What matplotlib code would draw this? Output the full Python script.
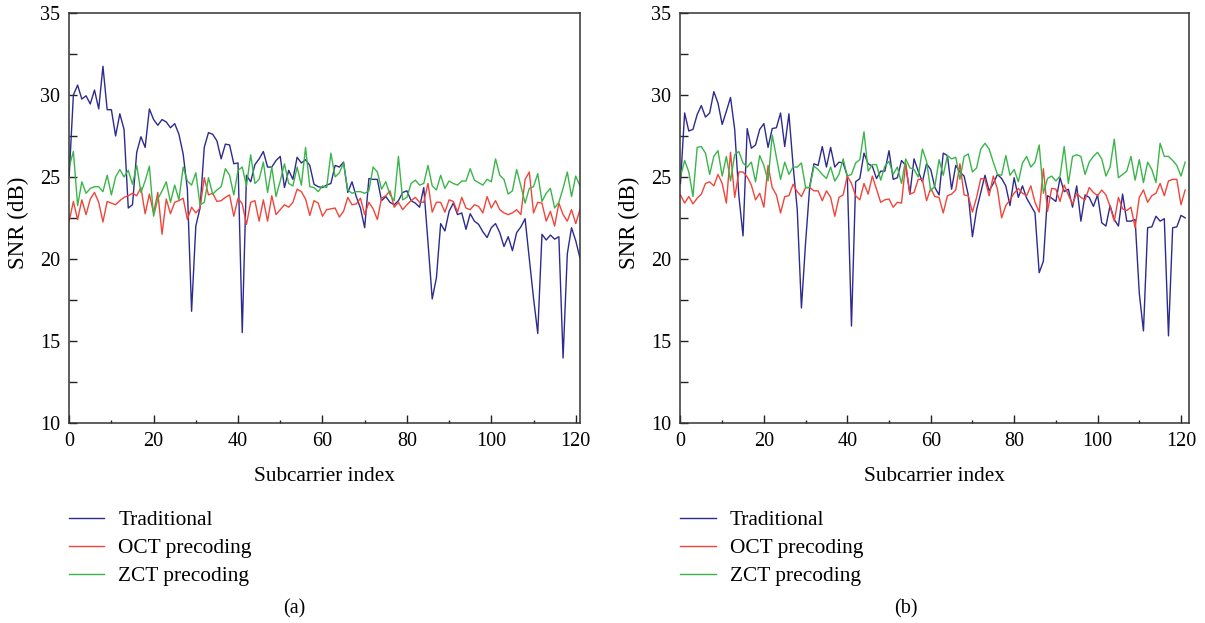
import matplotlib
matplotlib.use("Agg")
import matplotlib.pyplot as plt
from matplotlib.ticker import MultipleLocator

plt.rcParams['font.family'] = ['Liberation Serif', 'DejaVu Serif']

# subcarrier index 0..121
idx = list(range(122))

# (a)
trad_a = [25.06, 30.0, 30.6, 29.75, 29.95, 29.45, 30.3, 29.15, 31.75, 29.1,
          29.1, 27.5, 28.85, 27.9, 23.1, 23.3, 26.5, 27.45, 26.8, 29.15,
          28.5, 28.15, 28.5, 28.35, 28.0, 28.25, 27.6, 26.4, 24.25, 16.8,
          22.0, 23.1, 26.8, 27.7, 27.6, 27.2, 26.1, 27.0, 26.95, 25.8,
          25.85, 15.5, 25.1, 24.7, 25.75, 26.1, 26.55, 25.6, 25.6, 26.0,
          26.25, 24.35, 25.4, 24.85, 26.2, 25.85, 26.05, 25.7, 24.55, 24.4,
          24.35, 24.5, 24.6, 25.7, 25.6, 25.9, 24.05, 24.7, 23.8, 23.1,
          21.9, 24.9, 24.85, 24.85, 23.55, 23.8, 23.45, 23.3, 23.55, 24.05,
          24.15, 23.55, 23.4, 23.15, 24.35, 21.0, 17.55, 18.85, 22.15, 21.7,
          22.9, 23.4, 22.7, 22.8, 21.8, 22.75, 22.3, 22.1, 21.65, 21.3,
          21.9, 22.15, 21.6, 20.75, 21.35, 20.5, 21.6, 21.95, 22.45, 20.0,
          17.6, 15.45, 21.5, 21.15, 21.45, 21.2, 21.35, 13.95, 20.3, 21.9,
          21.1, 20.05]
oct_a = [22.3, 23.5, 22.4, 23.6, 22.7, 23.65, 24.05, 23.45, 22.25, 23.5,
         23.4, 23.3, 23.55, 23.75, 23.85, 24.0, 23.85, 24.35, 22.75, 23.95,
         22.8, 24.05, 21.5, 23.65, 22.75, 23.45, 23.55, 23.7, 22.4, 23.15,
         22.8, 23.1, 24.95, 23.9, 24.0, 23.5, 23.55, 23.75, 23.9, 22.6,
         23.7, 23.35, 22.1, 23.45, 23.55, 22.3, 23.6, 22.3, 23.85, 22.7,
         23.0, 23.3, 23.15, 23.45, 24.25, 24.1, 23.65, 22.65, 23.55, 23.4,
         22.6, 23.0, 23.05, 23.1, 22.55, 22.9, 23.75, 23.3, 23.35, 23.7,
         22.7, 23.45, 23.05, 22.4, 23.7, 23.85, 24.15, 23.15, 23.45, 23.0,
         23.3, 23.55, 23.75, 23.45, 23.45, 24.6, 22.85, 23.45, 23.45, 22.85,
         23.6, 23.5, 22.85, 23.75, 23.1, 23.0, 23.3, 23.2, 22.8, 23.8,
         23.1, 23.55, 23.0, 22.8, 22.7, 22.8, 23.0, 22.7, 24.85, 25.3,
         22.8, 23.45, 23.4, 22.3, 22.9, 22.0, 23.4, 22.7, 22.3, 23.0,
         22.15, 23.0]
zct_a = [25.6, 26.55, 23.25, 24.7, 24.0, 24.3, 24.4, 24.4, 24.1, 25.1,
         23.9, 25.0, 25.45, 25.0, 25.4, 24.55, 25.7, 24.05, 24.75, 25.65,
         22.6, 23.65, 24.15, 24.7, 23.45, 24.5, 23.6, 25.6, 24.75, 24.5,
         25.25, 23.3, 23.45, 24.95, 23.95, 24.2, 24.4, 25.5, 25.1, 23.9,
         25.4, 25.6, 24.45, 26.35, 24.6, 24.85, 25.9, 24.05, 25.6, 23.8,
         24.75, 25.8, 24.6, 24.45, 25.6, 24.5, 26.8, 24.4, 24.35, 24.1,
         24.45, 24.35, 26.45, 25.0, 25.25, 25.85, 24.2, 24.0, 24.1, 24.1,
         24.0, 24.15, 25.6, 25.3, 24.25, 24.7, 23.9, 23.55, 26.25, 23.6,
         23.75, 24.6, 24.8, 24.5, 24.6, 25.7, 24.45, 24.2, 25.1, 24.3,
         24.75, 24.6, 24.5, 24.75, 24.75, 25.5, 24.8, 24.65, 24.5, 24.85,
         24.7, 26.1, 25.1, 24.85, 23.95, 24.15, 25.45, 24.45, 23.4, 24.3,
         24.4, 25.2, 23.5, 24.0, 24.3, 23.1, 23.45, 24.3, 25.3, 23.8,
         25.05, 24.45]

# (b)
trad_b = [24.6, 28.9, 27.8, 27.9, 28.8, 29.35, 28.65, 28.9, 30.2, 29.5,
          28.2, 29.0, 29.85, 27.9, 23.85, 21.4, 27.95, 26.75, 26.95, 27.9,
          28.25, 26.8, 27.95, 28.0, 28.9, 26.85, 28.85, 25.7, 23.0, 17.0,
          21.0, 24.45, 25.8, 25.7, 26.85, 25.6, 26.8, 25.6, 25.9, 25.85,
          25.05, 15.9, 24.7, 24.9, 26.45, 25.8, 25.65, 24.9, 25.35, 25.35,
          26.6, 24.85, 24.95, 26.0, 25.7, 23.95, 26.1, 25.35, 24.7, 25.8,
          25.45, 24.35, 23.9, 26.45, 26.3, 24.25, 25.7, 25.3, 25.05, 23.9,
          21.35, 23.0, 24.05, 25.1, 24.15, 24.6, 25.15, 24.9, 24.45, 23.25,
          24.95, 23.75, 24.45, 23.7, 23.25, 22.8, 19.15, 19.85, 23.85, 23.7,
          23.5, 24.95, 24.1, 24.25, 23.15, 24.45, 22.3, 23.9, 23.75, 23.2,
          23.9, 22.2, 22.0, 23.25, 22.4, 22.0, 23.95, 22.3, 22.3, 22.4,
          17.9, 15.6, 21.9, 21.95, 22.6, 22.3, 22.45, 15.3, 21.9, 21.95,
          22.65, 22.5]
oct_b = [23.9, 23.4, 23.8, 23.35, 23.7, 23.95, 24.6, 24.7, 24.45, 25.15,
         24.6, 23.4, 26.5, 23.75, 25.3, 25.3, 25.0, 24.5, 23.6, 24.0,
         23.15, 25.7, 24.35, 23.9, 22.8, 23.8, 23.85, 24.55, 24.1, 23.8,
         24.35, 24.35, 24.15, 24.15, 23.55, 24.15, 23.75, 22.6, 23.75, 23.9,
         25.05, 24.6, 23.85, 23.6, 24.6, 23.95, 25.05, 24.25, 23.45, 23.6,
         23.65, 23.15, 23.45, 23.4, 25.85, 23.95, 24.05, 24.85, 24.85, 23.55,
         24.3, 23.8, 23.75, 22.8, 23.85, 23.95, 24.2, 25.8, 23.9, 23.85,
         22.85, 23.75, 24.9, 24.85, 23.85, 25.05, 24.25, 22.5, 23.25, 23.6,
         24.0, 24.3, 24.0, 23.85, 24.45, 23.45, 22.85, 25.5, 22.9, 24.3,
         24.25, 23.5, 24.5, 23.9, 23.35, 24.0, 23.75, 23.6, 24.35, 24.05,
         23.85, 24.2, 23.9, 23.2, 22.3, 23.75, 23.05, 22.95, 23.15, 21.9,
         23.75, 24.2, 23.45, 23.85, 24.0, 24.6, 23.85, 24.75, 24.85, 24.85,
         23.3, 24.2]
zct_b = [25.0, 26.0, 25.3, 23.8, 26.8, 26.85, 26.45, 25.15, 26.25, 26.6,
         25.05, 26.25, 24.75, 26.35, 26.55, 25.85, 25.6, 25.9, 24.7, 26.3,
         25.7, 24.75, 27.55, 26.2, 24.85, 25.9, 25.15, 25.6, 25.6, 25.85,
         24.35, 24.35, 25.65, 25.45, 25.15, 24.9, 25.6, 24.75, 25.15, 26.1,
         25.05, 25.15, 25.85, 26.05, 27.75, 25.35, 25.75, 25.75, 24.8, 25.65,
         25.95, 25.15, 25.6, 24.6, 26.1, 25.55, 25.45, 25.0, 26.7, 25.95,
         24.15, 24.45, 26.05, 25.1, 26.3, 26.1, 26.2, 24.85, 26.25, 26.4,
         25.3, 25.55, 26.7, 27.05, 26.7, 25.9, 25.15, 25.1, 26.3, 25.1,
         25.45, 24.7, 25.85, 26.25, 25.6, 25.9, 26.95, 24.0, 24.9, 25.05,
         24.75, 25.05, 26.85, 24.6, 26.25, 26.35, 26.25, 25.15, 25.9, 26.25,
         26.5, 26.1, 25.05, 25.6, 27.3, 24.95, 25.15, 25.35, 26.25, 24.8,
         26.05, 24.65, 25.9, 25.45, 24.65, 27.05, 26.25, 26.25, 26.0, 25.7,
         25.05, 25.9]

labels = ['Traditional', 'OCT precoding', 'ZCT precoding']
colors = ['#2e2a8e', '#f0453b', '#3bb54a']

fig = plt.figure(figsize=(12.05, 6.23), dpi=100)
ax_a = fig.add_axes([0.0574, 0.3215, 0.4239, 0.6576])
ax_b = fig.add_axes([0.5647, 0.3215, 0.4223, 0.6576])


def panel(ax, series, xmax, tag, legx, tagx):
    for s, lab, c in zip(series, labels, colors):
        ax.plot(idx, s, color=c, lw=1.0, label=lab)
    ax.set_xlim(0, xmax)
    ax.set_ylim(10, 35)
    ax.xaxis.set_major_locator(MultipleLocator(20))
    ax.xaxis.set_minor_locator(MultipleLocator(10))
    ax.yaxis.set_major_locator(MultipleLocator(5))
    ax.yaxis.set_minor_locator(MultipleLocator(2.5))
    ax.tick_params(axis='both', which='both', direction='in', top=False, right=False,
                   labelsize=14.5, width=1.0, color='#222222')
    ax.tick_params(axis='y', which='both', length=6, pad=6.5)
    ax.tick_params(axis='x', which='major', length=6, pad=7)
    ax.tick_params(axis='x', which='minor', length=2)
    for sp in ax.spines.values():
        sp.set_linewidth(1.1)
        sp.set_color('#333333')
    ax.set_xlabel('Subcarrier index', fontsize=15.3, labelpad=11)
    ax.set_ylabel('SNR (dB)', fontsize=16.5, labelpad=8, y=0.488)
    ax.legend(loc='upper left', bbox_to_anchor=(legx, 0.181),
              bbox_transform=fig.transFigure, frameon=False, fontsize=15.4,
              handlelength=1.65, handletextpad=0.65, labelspacing=0.38,
              borderpad=0, borderaxespad=0)
    fig.text(tagx, 0.0225, tag, ha='center', va='center', fontsize=14.5)


panel(ax_a, [trad_a, oct_a, zct_a], 121, '(a)', 0.0574, 0.244)
panel(ax_b, [trad_b, oct_b, zct_b], 122, '(b)', 0.5647, 0.752)

plt.savefig('out.png', dpi=100)
